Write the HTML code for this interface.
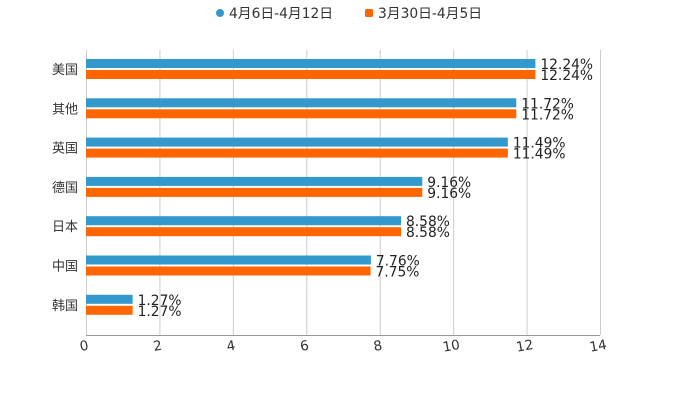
<!DOCTYPE html>
<html><head><meta charset="utf-8"><style>
body{margin:0;background:#fff;}
svg{display:block;font-family:"DejaVu Sans","Noto Sans CJK SC",sans-serif;}
</style></head><body>
<svg id="chart" width="700" height="400">
  <g>
    <g>
      <circle cx="220" cy="13" r="4" fill="#3399cc"/>
      <text x="229" y="18" font-size="13.8" fill="#333">4月6日-4月12日</text>
    </g>
    <g>
      <rect x="365" y="9" width="8" height="8" rx="1.5" fill="#ff6600"/>
      <text x="378" y="18" font-size="13.8" fill="#333">3月30日-4月5日</text>
    </g>
  </g>
  <g id="grid"></g>
  <g id="bars"></g>
  <g id="axis"></g>
</svg>
<script>
const categories=["美国","其他","英国","德国","日本","中国","韩国"];
const seriesA=[12.24,11.72,11.49,9.16,8.58,7.76,1.27];
const seriesB=[12.24,11.72,11.49,9.16,8.58,7.75,1.27];
const ticks=[0,2,4,6,8,10,12,14];
const ns="http://www.w3.org/2000/svg";
const plotX0=86,plotX1=600,xMaxVal=14,plotTop=50,plotBottom=335;
const X=v=>plotX0+(plotX1-plotX0)*v/xMaxVal;
const Y=i=>69+i*39.3;
function mk(t,a,p){const e=document.createElementNS(ns,t);for(const k in a)e.setAttribute(k,a[k]);p.appendChild(e);return e;}
const grid=document.getElementById('grid'),bars=document.getElementById('bars'),axis=document.getElementById('axis');
ticks.forEach(t=>{
  const l=mk('line',{x1:X(t)+0.5,x2:X(t)+0.5,y1:plotTop,y2:plotBottom,stroke:'#ccc','stroke-width':1},grid);
  
  
  const tx=mk('text',{x:X(t)-2,y:350,'font-size':13.5,fill:'#333','text-anchor':'middle',transform:`rotate(-10 ${X(t)} 345)`},axis);
  tx.textContent=t;
  
  
});
const al=mk('line',{x1:plotX0,x2:plotX1,y1:plotBottom+0.5,y2:plotBottom+0.5,stroke:'#999','stroke-width':1},axis);


categories.forEach((c,i)=>{
  const y=Y(i);
  const lab=mk('text',{x:78,y:y+5,'font-size':13,fill:'#333','text-anchor':'end'},axis);
  lab.textContent=c;
  
  
  [[seriesA,'#3399cc',-10],[seriesB,'#ff6600',1]].forEach(([s,col,dy],k)=>{
    const r=mk('rect',{x:plotX0,y:y+dy,width:X(s[i])-plotX0,height:9,fill:col},bars);
    
    
    const t=mk('text',{x:X(s[i])+5,y:y+dy+10,'font-size':13.8,fill:'#222'},bars);
    t.textContent=s[i].toFixed(2)+'%';
    
    
  });
});
</script>
</body></html>
